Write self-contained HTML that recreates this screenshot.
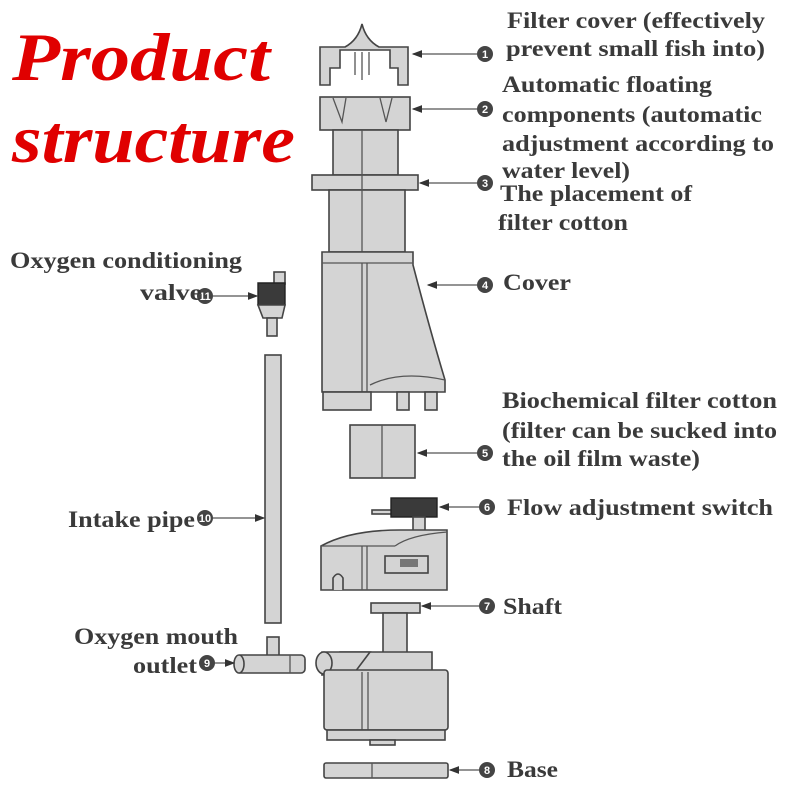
<!DOCTYPE html>
<html><head><style>
html,body{margin:0;padding:0;background:#fff;}
svg{display:block;}
.t{font-family:"Liberation Serif",serif;font-weight:bold;font-size:23px;fill:#3a3a3a;}
.h{font-family:"Liberation Serif",serif;font-weight:bold;font-style:italic;font-size:68px;fill:#e00000;}
.p{fill:#d4d4d4;stroke:#444;stroke-width:1.6;}
.d{fill:#3a3a3a;stroke:#222;stroke-width:1.4;}
.l{stroke:#555;stroke-width:1.3;fill:none;}
.n{font-family:"Liberation Sans",sans-serif;font-weight:bold;font-size:11px;fill:#fff;text-anchor:middle;}
</style></head><body>
<svg width="800" height="800" viewBox="0 0 800 800">
<defs><marker id="a" markerWidth="8" markerHeight="8" refX="7" refY="4" orient="auto"><path d="M0,1 L8,4 L0,7z" fill="#333"/></marker></defs>
<text class="h" x="12" y="80" textLength="258" lengthAdjust="spacingAndGlyphs">Product</text>
<text class="h" x="12" y="162" textLength="283" lengthAdjust="spacingAndGlyphs">structure</text>

<path class="p" d="M320,47 L345,47 Q358,40 362,24 Q366,40 379,47 L408,47 L408,85 L398,85 L398,68 L390,68 L390,50 L340,50 L340,68 L330,68 L330,85 L320,85Z"/>
<line class="l" x1="355" y1="52" x2="355" y2="75"/><line class="l" x1="362" y1="52" x2="362" y2="80"/><line class="l" x1="369" y1="52" x2="369" y2="75"/>
<rect class="p" x="320" y="97" width="90" height="33"/>
<path class="l" d="M333,98 L342,122 L346,98 M380,98 L386,122 L392,98"/>
<rect class="p" x="333" y="130" width="65" height="45"/>
<rect class="p" x="312" y="175" width="106" height="15"/>
<rect class="p" x="329" y="190" width="76" height="62"/>
<line class="l" x1="362" y1="130" x2="362" y2="252"/>
<path class="p" d="M322,252 L413,252 L413,265 Q430,330 445,380 L445,392 L322,392Z"/>
<line class="l" x1="322" y1="263" x2="413" y2="263"/>
<line class="l" x1="362" y1="263" x2="362" y2="392"/><line class="l" x1="367" y1="263" x2="367" y2="392"/>
<path class="l" d="M370,385 Q400,370 445,380"/>
<rect class="p" x="323" y="392" width="48" height="18"/>
<rect class="p" x="397" y="392" width="12" height="18"/><rect class="p" x="425" y="392" width="12" height="18"/>
<rect class="p" x="350" y="425" width="65" height="53"/>
<line class="l" x1="382" y1="425" x2="382" y2="478"/>
<rect class="p" x="372" y="510" width="20" height="4"/>
<rect class="d" x="391" y="498" width="46" height="19"/>
<rect class="p" x="413" y="517" width="12" height="14"/>
<path class="p" d="M321,546 Q350,530 400,530 L447,530 L447,590 L321,590Z"/>
<line class="l" x1="321" y1="546" x2="395" y2="546"/><path class="l" d="M395,546 Q410,535 447,532"/>
<line class="l" x1="362" y1="546" x2="362" y2="590"/><line class="l" x1="367" y1="546" x2="367" y2="590"/>
<rect class="p" x="385" y="556" width="43" height="17"/>
<rect fill="#777" x="400" y="559" width="18" height="8"/>
<path class="p" d="M333,590 L333,578 Q338,570 343,578 L343,590"/>
<rect class="p" x="371" y="603" width="49" height="10"/>
<rect class="p" x="383" y="613" width="24" height="45"/>
<path class="p" d="M340,652 L432,652 L432,672 L340,672Z"/>
<path class="p" d="M322,652 L370,652 L355,672 L322,675Z"/>
<ellipse class="p" cx="324" cy="663" rx="8" ry="11"/>
<rect class="p" x="324" y="670" width="124" height="60" rx="3"/>
<line class="l" x1="362" y1="672" x2="362" y2="730"/><line class="l" x1="368" y1="672" x2="368" y2="730"/>
<rect class="p" x="327" y="730" width="118" height="10"/>
<rect class="p" x="370" y="740" width="25" height="5"/>
<rect class="p" x="324" y="763" width="124" height="15" rx="2"/>
<line class="l" x1="372" y1="763" x2="372" y2="778"/>
<rect class="p" x="274" y="272" width="11" height="12"/>
<path class="d" d="M258,283 L285,283 L285,305 L258,305Z"/>
<path class="p" d="M258,305 L285,305 L282,318 L263,318Z"/>
<rect class="p" x="267" y="318" width="10" height="18"/>
<rect class="p" x="265" y="355" width="16" height="268"/>
<rect class="p" x="267" y="637" width="12" height="20"/>
<rect class="p" x="236" y="655" width="69" height="18" rx="4"/>
<ellipse class="p" cx="239" cy="664" rx="5" ry="9"/>
<line class="l" x1="290" y1="655" x2="290" y2="673"/>

<g class="l" marker-end="url(#a)">
<line x1="477" y1="54" x2="413" y2="54"/><line x1="477" y1="109" x2="413" y2="109"/>
<line x1="477" y1="183" x2="420" y2="183"/><line x1="477" y1="285" x2="428" y2="285"/>
<line x1="477" y1="453" x2="418" y2="453"/><line x1="479" y1="507" x2="440" y2="507"/>
<line x1="479" y1="606" x2="422" y2="606"/><line x1="479" y1="770" x2="450" y2="770"/>
<line x1="213" y1="296" x2="257" y2="296"/><line x1="213" y1="518" x2="264" y2="518"/>
<line x1="215" y1="663" x2="234" y2="663"/>
</g>
<g fill="#444">
<circle cx="485" cy="54" r="8"/><circle cx="485" cy="109" r="8"/><circle cx="485" cy="183" r="8"/>
<circle cx="485" cy="285" r="8"/><circle cx="485" cy="453" r="8"/><circle cx="487" cy="507" r="8"/>
<circle cx="487" cy="606" r="8"/><circle cx="487" cy="770" r="8"/><circle cx="205" cy="296" r="8"/>
<circle cx="205" cy="518" r="8"/><circle cx="207" cy="663" r="8"/>
</g>
<g class="n">
<text x="485" y="58">1</text><text x="485" y="113">2</text><text x="485" y="187">3</text>
<text x="485" y="289">4</text><text x="485" y="457">5</text><text x="487" y="511">6</text>
<text x="487" y="610">7</text><text x="487" y="774">8</text><text x="205" y="300">11</text>
<text x="205" y="522">10</text><text x="207" y="667">9</text>
</g>

<g class="t">
<text x="507" y="28" textLength="258" lengthAdjust="spacingAndGlyphs">Filter cover (effectively</text>
<text x="506" y="56" textLength="259" lengthAdjust="spacingAndGlyphs">prevent small fish into)</text>
<text x="502" y="92" textLength="210" lengthAdjust="spacingAndGlyphs">Automatic floating</text>
<text x="502" y="122" textLength="260" lengthAdjust="spacingAndGlyphs">components (automatic</text>
<text x="502" y="151" textLength="272" lengthAdjust="spacingAndGlyphs">adjustment according to</text>
<text x="502" y="178" textLength="128" lengthAdjust="spacingAndGlyphs">water level)</text>
<text x="500" y="201" textLength="192" lengthAdjust="spacingAndGlyphs">The placement of</text>
<text x="498" y="230" textLength="130" lengthAdjust="spacingAndGlyphs">filter cotton</text>
<text x="503" y="290" textLength="68" lengthAdjust="spacingAndGlyphs">Cover</text>
<text x="502" y="408" textLength="275" lengthAdjust="spacingAndGlyphs">Biochemical filter cotton</text>
<text x="502" y="438" textLength="275" lengthAdjust="spacingAndGlyphs">(filter can be sucked into</text>
<text x="502" y="466" textLength="198" lengthAdjust="spacingAndGlyphs">the oil film waste)</text>
<text x="507" y="515" textLength="266" lengthAdjust="spacingAndGlyphs">Flow adjustment switch</text>
<text x="503" y="614" textLength="59" lengthAdjust="spacingAndGlyphs">Shaft</text>
<text x="507" y="777" textLength="51" lengthAdjust="spacingAndGlyphs">Base</text>
<text x="10" y="268" textLength="232" lengthAdjust="spacingAndGlyphs">Oxygen conditioning</text>
<text x="140" y="300" textLength="62" lengthAdjust="spacingAndGlyphs">valve</text>
<text x="68" y="527" textLength="127" lengthAdjust="spacingAndGlyphs">Intake pipe</text>
<text x="74" y="644" textLength="164" lengthAdjust="spacingAndGlyphs">Oxygen mouth</text>
<text x="133" y="673" textLength="64" lengthAdjust="spacingAndGlyphs">outlet</text>
</g>
</svg>
</body></html>
